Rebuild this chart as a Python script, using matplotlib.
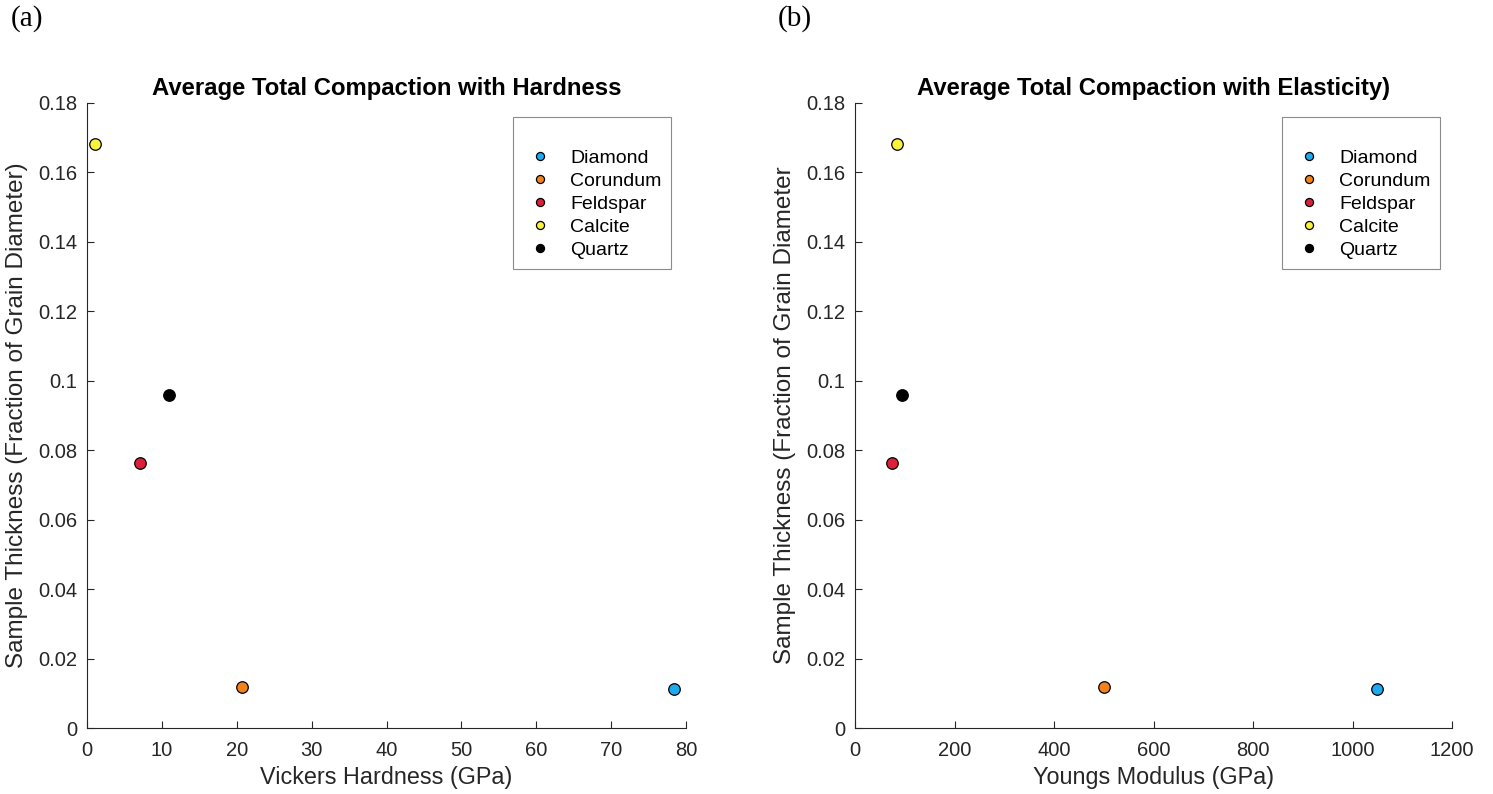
import matplotlib
matplotlib.use("Agg")
import matplotlib.pyplot as plt

# =====================================================
# DATA
# =====================================================

minerals = ["Diamond", "Corundum", "Feldspar", "Calcite", "Quartz"]

vickers_gpa = [78.4, 20.7, 7.1, 1.1, 10.9]
youngs_gpa = [1050, 500, 74, 84, 95]

thickness_frac = [0.0113, 0.0118, 0.0764, 0.1682, 0.0958]

x_ticks_hard = [0, 10, 20, 30, 40, 50, 60, 70, 80]
x_ticks_young = [0, 200, 400, 600, 800, 1000, 1200]
y_ticks = [0, 0.02, 0.04, 0.06, 0.08, 0.1, 0.12, 0.14, 0.16, 0.18]

# =====================================================
# STYLE
# =====================================================

colors = ["#1DABEF", "#F3821A", "#DE1F3A", "#F8F23A", "#000000"]
axis_col = "#262626"

plt.rcParams["font.family"] = ["Liberation Sans", "DejaVu Sans"]

fig = plt.figure(figsize=(14.93, 7.94), dpi=100)

W, H = 1493.0, 794.0


def make_axes(left_px, right_px, top_px, bottom_px):
    return fig.add_axes([
        left_px / W,
        1 - bottom_px / H,
        (right_px - left_px) / W,
        (bottom_px - top_px) / H
    ])


def style_axes(ax, xticks, xmax):
    ax.set_xlim(0, xmax)
    ax.set_ylim(0, 0.18)
    ax.set_xticks(xticks)
    ax.set_xticklabels([f"{t:g}" for t in xticks])
    ax.set_yticks(y_ticks)
    ax.set_yticklabels([f"{t:g}" for t in y_ticks])
    for side in ["top", "right"]:
        ax.spines[side].set_visible(False)
    for side in ["left", "bottom"]:
        ax.spines[side].set_color(axis_col)
        ax.spines[side].set_linewidth(0.8)
    ax.tick_params(axis="both", direction="in", length=5, width=0.8,
                   color=axis_col, labelcolor=axis_col, labelsize=14.5)
    ax.tick_params(axis="x", pad=9)
    ax.tick_params(axis="y", pad=7)


def draw_points(ax, xvals, legend_left_px):
    for name, xv, yv, c in zip(minerals, xvals, thickness_frac, colors):
        ax.plot(xv, yv, linestyle="none", marker="o", markersize=8.3,
                markerfacecolor=c, markeredgecolor="black",
                markeredgewidth=0.9, label=name)
    leg = ax.legend(
        loc="upper left",
        bbox_to_anchor=(legend_left_px / W, 1 - 117 / H),
        bbox_transform=fig.transFigure,
        borderaxespad=0,
        fontsize=14,
        title=" ",
        title_fontsize=13,
        markerscale=0.7,
        handlelength=1.8,
        handletextpad=0.65,
        labelspacing=0.28,
        borderpad=0.5,
        fancybox=False,
        frameon=True
    )
    leg.get_frame().set_edgecolor("#6e6e6e")
    leg.get_frame().set_linewidth(0.8)


# =====================================================
# (a) HARDNESS PANEL
# =====================================================

ax1 = make_axes(87, 686, 103, 728)
draw_points(ax1, vickers_gpa, 513)
style_axes(ax1, x_ticks_hard, 80)

ax1.set_title("Average Total Compaction with Hardness",
              fontsize=17.2, fontweight="bold", pad=6)
ax1.set_xlabel("Vickers Hardness (GPa)", fontsize=16.8, color=axis_col,
               labelpad=5)
ax1.set_ylabel("Sample Thickness (Fraction of Grain Diameter)",
               fontsize=17.5, color=axis_col, labelpad=7)

# =====================================================
# (b) ELASTICITY PANEL
# =====================================================

ax2 = make_axes(855, 1452, 103, 728)
draw_points(ax2, youngs_gpa, 1282)
style_axes(ax2, x_ticks_young, 1200)

ax2.set_title("Average Total Compaction with Elasticity)",
              fontsize=17.2, fontweight="bold", pad=6)
ax2.set_xlabel("Youngs Modulus (GPa)", fontsize=16.8, color=axis_col,
               labelpad=5)
ax2.set_ylabel("Sample Thickness (Fraction of Grain Diameter",
               fontsize=17.5, color=axis_col, labelpad=7)

# =====================================================
# PANEL LETTERS
# =====================================================

fig.text(11 / W, 1 - 5 / H, "(a)", fontsize=21, va="top", ha="left",
         family=["Liberation Serif", "DejaVu Serif"])
fig.text(778 / W, 1 - 5 / H, "(b)", fontsize=21, va="top", ha="left",
         family=["Liberation Serif", "DejaVu Serif"])

fig.savefig("out.png", dpi=100)
